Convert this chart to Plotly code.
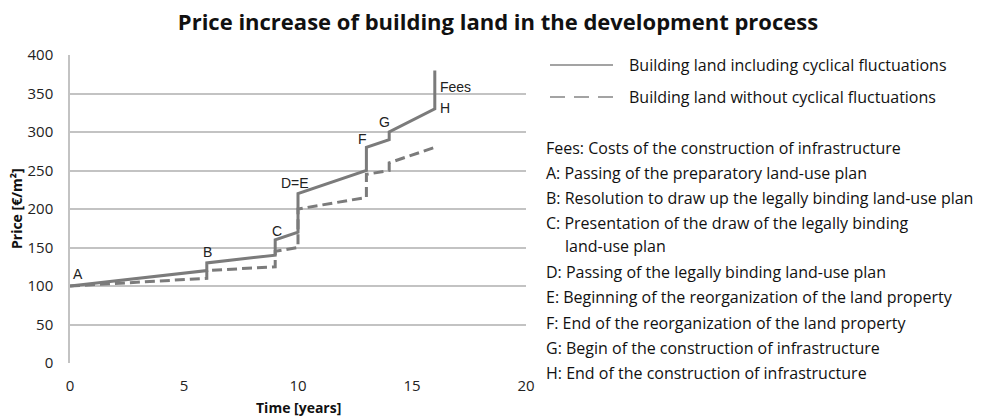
import plotly.graph_objects as go

# price path including cyclical fluctuations
x_incl = [0, 6, 6, 9, 9, 10, 10, 13, 13, 14, 14, 16, 16]
y_incl = [100, 120, 130, 140, 160, 170, 220, 250, 280, 290, 300, 330, 380]

# price path without cyclical fluctuations
x_excl = [0, 6, 6, 9, 9, 10, 10, 13, 13, 14, 14, 16]
y_excl = [100, 110, 120, 125, 145, 150, 200, 215, 245, 250, 260, 280]

# point labels on the chart
point_labels = ["A", "B", "C", "D=E", "F", "G", "H", "Fees"]
point_x = [0.35, 6.05, 9.1, 9.85, 12.85, 13.8, 16.12, 16.12]
point_y = [116, 144, 172, 234, 291, 313, 331, 359]

legend_names = ["Building land including cyclical fluctuations",
                "Building land without cyclical fluctuations"]

notes = [
    "Fees: Costs of the construction of infrastructure",
    "A: Passing of the preparatory land-use plan",
    "B: Resolution to draw up the legally binding land-use plan",
    "C: Presentation of the draw of the legally binding",
    "   land-use plan",
    "D: Passing of the legally binding land-use plan",
    "E: Beginning of the reorganization of the land property",
    "F: End of the reorganization of the land property",
    "G: Begin of the construction of infrastructure",
    "H: End of the construction of infrastructure",
]

# page body has an 8px margin, so the figure is a bit smaller than the window
OFF = 8
W, H = 988 - OFF, 416 - OFF
L, T = 70 - OFF, 55 - OFF
R, B = W - (526 - OFF), H - (363 - OFF)
LINE = "#7b7b7b"
GRID = "#c3c3c3"
FONT = "Open Sans"


def px_x(p):
    return (p - OFF - L) / (W - L - R)


def px_y(p):
    return (H - B - (p - OFF)) / (H - T - B)


fig = go.Figure()

fig.add_trace(go.Scatter(
    x=x_incl, y=y_incl, mode="lines", name=legend_names[0],
    line=dict(color=LINE, width=3)
))
fig.add_trace(go.Scatter(
    x=x_excl, y=y_excl, mode="lines", name=legend_names[1],
    line=dict(color=LINE, width=3, dash="10px,5px")
))

annotations = []
for lab, xx, yy in zip(point_labels, point_x, point_y):
    left = lab in ("H", "Fees")
    annotations.append(dict(
        x=xx, y=yy, xref="x", yref="y", text=lab, showarrow=False,
        xanchor="left" if left else "center", yanchor="middle",
        font=dict(family="Liberation Sans", size=14, color="#222222")
    ))

# legend drawn on the right
shapes = []
for i, name in enumerate(legend_names):
    yy = px_y(65 + 32 * i)
    shapes.append(dict(
        type="line", xref="paper", yref="paper",
        x0=px_x(550), x1=px_x(613), y0=yy, y1=yy,
        line=dict(color="#a3a3a3", width=2, dash="solid" if i == 0 else "15px,9px")
    ))
    annotations.append(dict(
        x=px_x(627), y=yy, xref="paper", yref="paper", text=name,
        showarrow=False, xanchor="left", yanchor="middle",
        font=dict(family=FONT, size=16, color="#111111")
    ))

note_y = [148, 173, 198, 223, 246, 272, 297, 323, 348, 373]
for txt, yy in zip(notes, note_y):
    indent = txt.startswith("   ")
    annotations.append(dict(
        x=px_x(563 if indent else 544), y=px_y(yy), xref="paper", yref="paper",
        text=txt.strip(), showarrow=False, xanchor="left", yanchor="middle",
        font=dict(family=FONT, size=16, color="#111111")
    ))

# axis titles
annotations.append(dict(
    x=px_x(298), y=px_y(407), xref="paper", yref="paper", text="<b>Time [years]</b>",
    showarrow=False, xanchor="center", yanchor="middle",
    font=dict(family=FONT, size=14, color="#111111")
))
annotations.append(dict(
    x=px_x(16), y=px_y(209), xref="paper", yref="paper", text="<b>Price [€/m²]</b>",
    showarrow=False, xanchor="center", yanchor="middle", textangle=-90,
    font=dict(family=FONT, size=14, color="#111111")
))

fig.update_layout(
    width=W, height=H,
    margin=dict(l=L, r=R, t=T, b=B),
    paper_bgcolor="white", plot_bgcolor="white",
    showlegend=False,
    title=dict(
        text="<b>Price increase of building land in the development process</b>",
        x=0.5, xanchor="center", y=1 - (22 - OFF) / H, yanchor="middle",
        font=dict(family=FONT, size=22, color="#111111")
    ),
    annotations=annotations,
    shapes=shapes,
)

fig.update_xaxes(
    range=[0, 20], tickvals=[0, 5, 10, 15, 20], showgrid=False, zeroline=False,
    showline=False, ticks="", ticklabelstandoff=12,
    tickfont=dict(family=FONT, size=15, color="#222222")
)
fig.update_yaxes(
    range=[0, 400], tickvals=list(range(0, 401, 50)), showgrid=True,
    gridcolor=GRID, gridwidth=1.5, zeroline=False,
    showline=True, linecolor=GRID, linewidth=1.5, ticks="", ticklabelstandoff=12,
    tickfont=dict(family=FONT, size=15, color="#222222")
)

fig.write_html("out.html")
